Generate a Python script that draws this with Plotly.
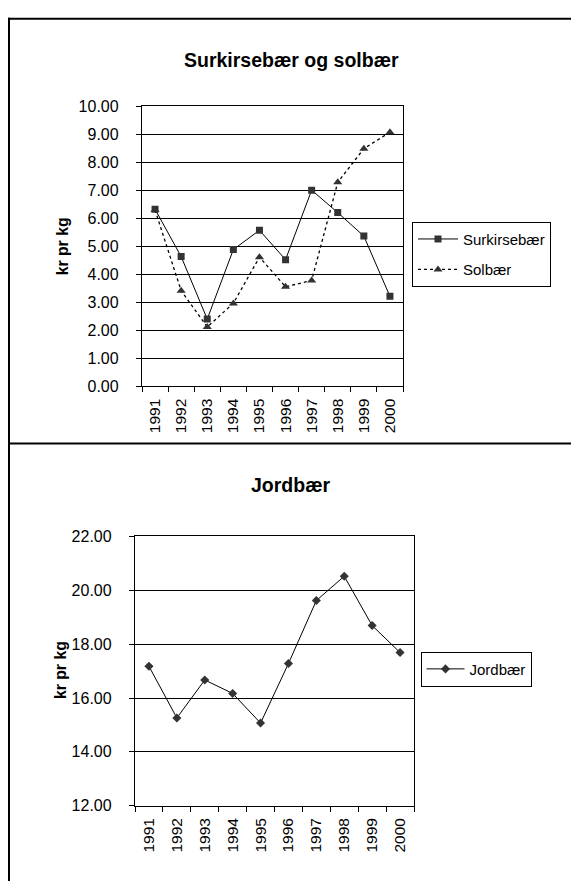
import plotly.graph_objects as go

W, H = 571, 890

years = ["1991", "1992", "1993", "1994", "1995", "1996", "1997", "1998", "1999", "2000"]
surkirsebaer = [6.32, 4.63, 2.40, 4.88, 5.57, 4.52, 7.00, 6.20, 5.36, 3.21]
solbaer = [6.29, 3.41, 2.12, 2.96, 4.61, 3.55, 3.78, 7.28, 8.48, 9.07]
jordbaer = [17.18, 15.26, 16.67, 16.17, 15.07, 17.28, 19.62, 20.52, 18.69, 17.69]

FONT = "Arial, 'Liberation Sans', sans-serif"


def px(x):
    return x / W


def py(y):
    return 1 - y / H


fig = go.Figure()

fig.add_trace(go.Scatter(
    x=years, y=surkirsebaer, name="Surkirsebær", mode="lines+markers",
    line=dict(color="#000000", width=1),
    marker=dict(symbol="square", size=7, color="#333333"),
    xaxis="x", yaxis="y", legend="legend", legendgroup="a",
))
fig.add_trace(go.Scatter(
    x=years, y=solbaer, name="Solbær", mode="lines+markers",
    line=dict(color="#000000", width=1.3, dash="dot"),
    marker=dict(symbol="triangle-up", size=8, color="#333333"),
    xaxis="x", yaxis="y", legend="legend", legendgroup="b",
))
fig.add_trace(go.Scatter(
    x=years, y=jordbaer, name="Jordbær", mode="lines+markers",
    line=dict(color="#000000", width=1),
    marker=dict(symbol="diamond", size=7, color="#333333"),
    xaxis="x2", yaxis="y2", legend="legend2",
))

xcommon = dict(
    type="category", range=[-0.5, 9.5], tickson="boundaries",
    ticks="outside", ticklen=5, tickcolor="#000", tickwidth=1,
    tickangle=-90, showline=True, linecolor="#000", linewidth=1.3,
    mirror=True, showgrid=False, zeroline=False,
    tickfont=dict(family=FONT, size=15.5, color="#000"),
    ticklabelstandoff=5,
)
ycommon = dict(
    ticks="outside", ticklen=5, tickcolor="#000", tickwidth=1,
    showline=True, linecolor="#000", linewidth=1.3, mirror=True,
    showgrid=True, gridcolor="#000", gridwidth=1, zeroline=False,
    tickformat=".2f",
    tickfont=dict(family=FONT, size=16, color="#000"),
    ticklabelstandoff=14,
)

fig.update_layout(
    width=W, height=H,
    margin=dict(l=0, r=0, t=0, b=0),
    paper_bgcolor="white", plot_bgcolor="white",
    font=dict(family=FONT, color="#000"),
    xaxis=dict(domain=[px(142), px(403)], anchor="y", **xcommon),
    yaxis=dict(domain=[py(385.7), py(100)], anchor="x", range=[0, 10], dtick=1, **ycommon),
    xaxis2=dict(domain=[px(135), px(414)], anchor="y2", **xcommon),
    yaxis2=dict(domain=[py(813.3), py(538.7)], anchor="x2", range=[12, 22], dtick=2, **ycommon),
    legend=dict(
        x=px(412), y=py(251), xanchor="left", yanchor="middle",
        bordercolor="#000", borderwidth=1, bgcolor="white",
        font=dict(family=FONT, size=15, color="#000"),
        tracegroupgap=8, itemwidth=40,
    ),
    legend2=dict(
        x=px(420.5), y=py(674), xanchor="left", yanchor="middle",
        bordercolor="#000", borderwidth=1, bgcolor="white",
        font=dict(family=FONT, size=15, color="#000"),
        itemwidth=38,
    ),
    showlegend=True,
)

annotations = [
    dict(text="<b>Surkirsebær og solbær</b>", x=px(291), y=py(53), font=dict(size=19.5)),
    dict(text="<b>Jordbær</b>", x=px(291), y=py(486), font=dict(size=19.5)),
    dict(text="<b>kr pr kg</b>", x=px(62), y=py(243), textangle=-90, font=dict(size=15.8)),
    dict(text="<b>kr pr kg</b>", x=px(60), y=py(675), textangle=-90, font=dict(size=15.8)),
]
for a in annotations:
    a.update(xref="paper", yref="paper", showarrow=False, xanchor="center", yanchor="middle")
    a["font"].update(family=FONT, color="#000")
fig.update_layout(annotations=annotations)

shapes = [
    dict(type="line", x0=px(8), x1=1, y0=py(11), y1=py(11)),
    dict(type="line", x0=px(9), x1=px(9), y0=py(10), y1=0),
    dict(type="line", x0=px(9), x1=1, y0=py(444), y1=py(444)),
]
for s in shapes:
    s.update(xref="paper", yref="paper", line=dict(color="#000", width=2))
fig.update_layout(shapes=shapes)

fig.write_html("out.html")
